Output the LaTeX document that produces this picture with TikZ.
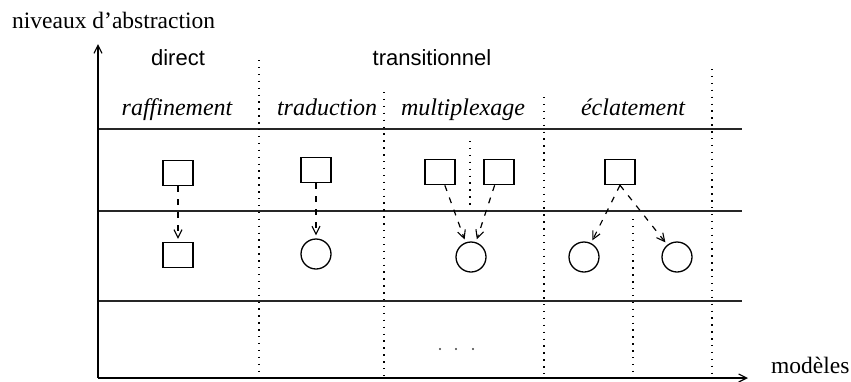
\documentclass[tikz,border=0pt]{standalone}
\usepackage{fontspec}
\setmainfont{Liberation Serif}
\newfontfamily\sansf{Liberation Sans}
\usetikzlibrary{arrows.meta}
\tikzset{
  solidline/.style={line width=1.5pt, draw=black!85},
  dotline/.style={line width=1.6pt, dash pattern=on 1.4pt off 5.5pt, draw=black},
  sq/.style={draw, line width=1.5pt, minimum width=30pt, minimum height=25pt, inner sep=0pt},
  circ/.style={draw, circle, line width=1.3pt, minimum size=30pt, inner sep=0pt},
  darr/.style={line width=1.2pt, dash pattern=on 6pt off 7pt, -{Straight Barb[length=8pt,width=8pt,line width=1.1pt]}, shorten >=3pt},
  axarr/.style={line width=1.5pt, -{Straight Barb[length=8pt,width=8pt,line width=1.2pt]}},
  sanslbl/.style={font=\sansf\fontsize{22}{22}\selectfont, anchor=base, inner sep=0pt},
  itlbl/.style={font=\itshape\fontsize{24}{24}\selectfont, anchor=base, inner sep=0pt},
  serlbl/.style={font=\fontsize{23.5}{23.5}\selectfont, inner sep=0pt},
  dotpt/.style={fill=black!75, circle, inner sep=0pt, minimum size=2.2pt}
}
\begin{document}
\begin{tikzpicture}[x=1pt,y=-1pt]
\useasboundingbox (0,0) rectangle (851,381);
% axes
\coordinate (O) at (98,378);
\coordinate (ytop) at (98,44);
\coordinate (xend) at (748,378);
% horizontal level lines
\coordinate (h1a) at (98,129); \coordinate (h1b) at (742,129);
\coordinate (h2a) at (98,211); \coordinate (h2b) at (742,211);
\coordinate (h3a) at (98,301); \coordinate (h3b) at (742,301);
\draw[solidline] (h1a) -- (h1b);
\draw[solidline] (h2a) -- (h2b);
\draw[solidline] (h3a) -- (h3b);
% dotted separators
\coordinate (d1a) at (259,60);  \coordinate (d1b) at (259,378);
\coordinate (d2a) at (384,92);  \coordinate (d2b) at (384,378);
\coordinate (d3a) at (544,97);  \coordinate (d3b) at (544,378);
\coordinate (d4a) at (712,69);  \coordinate (d4b) at (712,378);
\coordinate (d5a) at (470,141); \coordinate (d5b) at (470,207);
\coordinate (d6a) at (633,219); \coordinate (d6b) at (633,378);
\draw[dotline] (d1a) -- (d1b);
\draw[dotline] (d2a) -- (d2b);
\draw[dotline] (d3a) -- (d3b);
\draw[dotline] (d4a) -- (d4b);
\draw[dotline] (d5a) -- (d5b);
\draw[dotline] (d6a) -- (d6b);
\draw[axarr] (O) -- (ytop);
\draw[axarr] (O) -- (xend);
% labels
\node[serlbl, anchor=base west] (yl) at (12,28) {niveaux d'abstraction};
\node[serlbl, anchor=base west] (xl) at (771,373) {modèles};
\node[sanslbl] (ldirect) at (178,65) {direct};
\node[sanslbl] (ltrans) at (432,65) {transitionnel};
\node[itlbl] (lraf) at (177,115) {raffinement};
\node[itlbl] (ltrad) at (327,115) {traduction};
\node[itlbl] (lmul) at (463,115) {multiplexage};
\node[itlbl] (lecl) at (633,115) {éclatement};
% shapes
\node[sq] (s1) at (178,173) {};
\node[sq] (s2) at (178,255) {};
\node[sq] (s3) at (316,170) {};
\node[circ] (c1) at (316,254) {};
\node[sq] (s4) at (440,172) {};
\node[sq] (s5) at (499,172) {};
\node[circ] (c2) at (471,257) {};
\node[sq] (s6) at (620,172) {};
\node[circ] (c3) at (584,257) {};
\node[circ] (c4) at (677,257) {};
% arrows
\draw[darr] (s1) -- (s2);
\draw[darr] (s3) -- (c1);
\draw[darr] (s4) -- (c2);
\draw[darr] (s5) -- (c2);
\draw[darr] (s6.south) -- (c3);
\draw[darr] (s6.south) -- (c4);
% ellipsis
\node[dotpt] (e1) at (440,349) {};
\node[dotpt] (e2) at (456,349) {};
\node[dotpt] (e3) at (473,349) {};
\end{tikzpicture}
\end{document}
